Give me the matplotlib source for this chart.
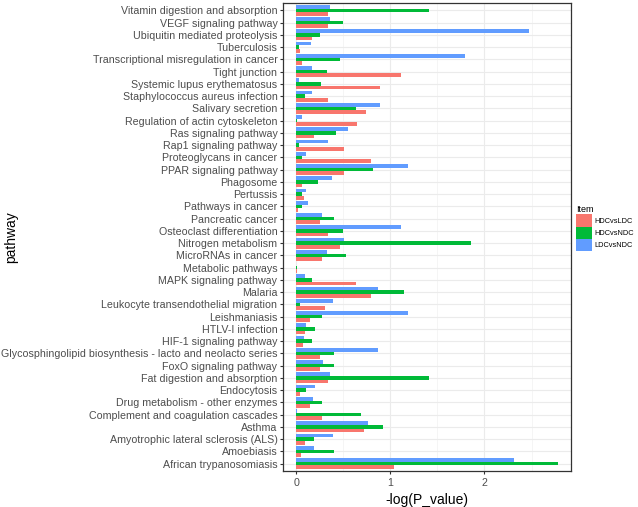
import numpy as np
import matplotlib.pyplot as plt
from matplotlib.patches import Patch

plt.rcParams['font.family'] = ['Liberation Sans', 'DejaVu Sans']

# pathways, listed top to bottom as in the chart
pathways = [
    "Vitamin digestion and absorption", "VEGF signaling pathway",
    "Ubiquitin mediated proteolysis", "Tuberculosis",
    "Transcriptional misregulation in cancer", "Tight junction",
    "Systemic lupus erythematosus", "Staphylococcus aureus infection",
    "Salivary secretion", "Regulation of actin cytoskeleton",
    "Ras signaling pathway", "Rap1 signaling pathway",
    "Proteoglycans in cancer", "PPAR signaling pathway", "Phagosome",
    "Pertussis", "Pathways in cancer", "Pancreatic cancer",
    "Osteoclast differentiation", "Nitrogen metabolism",
    "MicroRNAs in cancer", "Metabolic pathways", "MAPK signaling pathway",
    "Malaria", "Leukocyte transendothelial migration", "Leishmaniasis",
    "HTLV-I infection", "HIF-1 signaling pathway",
    "Glycosphingolipid biosynthesis - lacto and neolacto series",
    "FoxO signaling pathway", "Fat digestion and absorption", "Endocytosis",
    "Drug metabolism - other enzymes", "Complement and coagulation cascades",
    "Asthma", "Amyotrophic lateral sclerosis (ALS)", "Amoebiasis",
    "African trypanosomiasis",
]

hdc_vs_ldc = [0.34, 0.34, 0.167, 0.04, 0.064, 1.11, 0.89, 0.34, 0.74, 0.65,
              0.195, 0.507, 0.79, 0.507, 0.064, 0.08, 0.02, 0.255, 0.34, 0.47,
              0.28, 0.01, 0.64, 0.794, 0.31, 0.15, 0.092, 0.074, 0.25, 0.25,
              0.34, 0.043, 0.145, 0.27, 0.72, 0.092, 0.05, 1.035]
hdc_vs_ndc = [1.415, 0.5, 0.25, 0.03, 0.47, 0.33, 0.26, 0.09, 0.635, 0.01,
              0.42, 0.03, 0.064, 0.815, 0.234, 0.06, 0.067, 0.4, 0.5, 1.855,
              0.535, 0.01, 0.167, 1.15, 0.04, 0.27, 0.2, 0.167, 0.4, 0.4,
              1.415, 0.106, 0.27, 0.69, 0.92, 0.195, 0.4, 2.78]
ldc_vs_ndc = [0.365, 0.365, 2.475, 0.163, 1.79, 0.17, 0.03, 0.17, 0.89, 0.064,
              0.55, 0.34, 0.106, 1.19, 0.376, 0.106, 0.128, 0.28, 1.117, 0.507,
              0.33, 0.0, 0.092, 0.865, 0.387, 1.19, 0.11, 0.089, 0.865, 0.284,
              0.365, 0.2, 0.177, 0.01, 0.766, 0.39, 0.19, 2.31]

items = ["HDCvsLDC", "HDCvsNDC", "LDCvsNDC"]
colors = ["#F8766D", "#00BA38", "#619CFF"]
series = [hdc_vs_ldc, hdc_vs_ndc, ldc_vs_ndc]

fig = plt.figure(figsize=(6.38, 5.07), dpi=100)
ax = fig.add_axes([0.4436, 0.071, 0.4514, 0.923])

n = len(pathways)
y = np.arange(n)[::-1]  # first pathway on top
w = 0.3
for k, (vals, c) in enumerate(zip(series, colors)):
    ax.barh(y + (k - 1) * w, vals, height=w, color=c, zorder=3)

# ggplot-like expansion: 5% on the continuous axis, 0.6 on the discrete one
xmax = max(max(s) for s in series)
ax.set_xlim(-0.05 * xmax, 1.05 * xmax)
ax.set_ylim(-0.6, n - 1 + 0.6)
ax.set_xticks([0, 1, 2])
ax.set_xticks([0.5, 1.5, 2.5], minor=True)
ax.set_yticks(y)
ax.set_yticklabels(pathways)

ax.grid(True, which='major', color='#EBEBEB', lw=0.8, zorder=0)
ax.grid(True, which='minor', axis='x', color='#F2F2F2', lw=0.5, zorder=0)
ax.set_axisbelow(True)
for sp in ax.spines.values():
    sp.set_color('#333333')
    sp.set_linewidth(0.9)
ax.tick_params(axis='both', which='major', labelsize=7.65, colors='#333333',
               length=2.5, width=0.8, pad=1.5, labelcolor='#4D4D4D')
ax.tick_params(axis='x', which='minor', length=0)
ax.tick_params(axis='x', pad=2.5)

ax.set_xlabel("-log(P_value)", fontsize=10)
ax.xaxis.set_label_coords(0.5, -0.061)
ax.xaxis.label.set_va('center')
ax.set_ylabel("pathway", fontsize=10)
ax.yaxis.set_label_coords(-0.945, 0.5)
ax.yaxis.label.set_va('center')

handles = [Patch(facecolor=c, edgecolor='none') for c in colors]
leg = fig.legend(handles, items, title="Item", loc='upper left',
                 bbox_to_anchor=(0.903, 0.595), frameon=False, fontsize=5.3,
                 title_fontsize=6.5, handlelength=2.1, handleheight=2.2,
                 handletextpad=0.35, labelspacing=0.0, borderpad=0,
                 borderaxespad=0)
leg._legend_box.align = "left"

fig.savefig("out.png", dpi=100)
